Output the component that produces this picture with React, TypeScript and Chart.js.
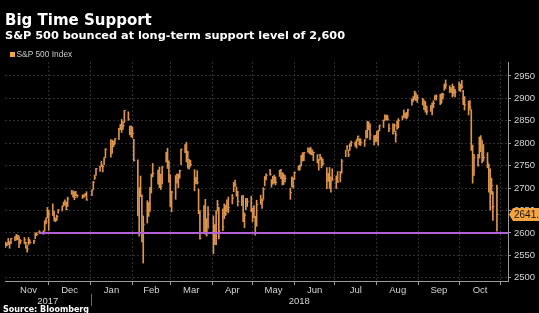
import { useEffect, useRef } from 'react';
import { Chart, registerables } from 'chart.js';

Chart.register(...registerables);

const title = 'Big Time Support';
const subtitle = 'S&P 500 bounced at long-term support level of 2,600';
const seriesName = 'S&P 500 Index';
const sourceText = 'Source: Bloomberg';

const dates = [
  '2017-10-30','2017-10-31',
  '2017-11-01','2017-11-02','2017-11-03','2017-11-06','2017-11-07','2017-11-08','2017-11-09','2017-11-10','2017-11-13','2017-11-14','2017-11-15','2017-11-16','2017-11-17','2017-11-20','2017-11-21','2017-11-22','2017-11-24','2017-11-27','2017-11-28','2017-11-29','2017-11-30',
  '2017-12-01','2017-12-04','2017-12-05','2017-12-06','2017-12-07','2017-12-08','2017-12-11','2017-12-12','2017-12-13','2017-12-14','2017-12-15','2017-12-18','2017-12-19','2017-12-20','2017-12-21','2017-12-22','2017-12-26','2017-12-27','2017-12-28','2017-12-29',
  '2018-01-02','2018-01-03','2018-01-04','2018-01-05','2018-01-08','2018-01-09','2018-01-10','2018-01-11','2018-01-12','2018-01-16','2018-01-17','2018-01-18','2018-01-19','2018-01-22','2018-01-23','2018-01-24','2018-01-25','2018-01-26','2018-01-29','2018-01-30','2018-01-31',
  '2018-02-01','2018-02-02','2018-02-05','2018-02-06','2018-02-07','2018-02-08','2018-02-09','2018-02-12','2018-02-13','2018-02-14','2018-02-15','2018-02-16','2018-02-20','2018-02-21','2018-02-22','2018-02-23','2018-02-26','2018-02-27','2018-02-28',
  '2018-03-01','2018-03-02','2018-03-05','2018-03-06','2018-03-07','2018-03-08','2018-03-09','2018-03-12','2018-03-13','2018-03-14','2018-03-15','2018-03-16','2018-03-19','2018-03-20','2018-03-21','2018-03-22','2018-03-23','2018-03-26','2018-03-27','2018-03-28','2018-03-29',
  '2018-04-02','2018-04-03','2018-04-04','2018-04-05','2018-04-06','2018-04-09','2018-04-10','2018-04-11','2018-04-12','2018-04-13','2018-04-16','2018-04-17','2018-04-18','2018-04-19','2018-04-20','2018-04-23','2018-04-24','2018-04-25','2018-04-26','2018-04-27','2018-04-30',
  '2018-05-01','2018-05-02','2018-05-03','2018-05-04','2018-05-07','2018-05-08','2018-05-09','2018-05-10','2018-05-11','2018-05-14','2018-05-15','2018-05-16','2018-05-17','2018-05-18','2018-05-21','2018-05-22','2018-05-23','2018-05-24','2018-05-25','2018-05-29','2018-05-30','2018-05-31',
  '2018-06-01','2018-06-04','2018-06-05','2018-06-06','2018-06-07','2018-06-08','2018-06-11','2018-06-12','2018-06-13','2018-06-14','2018-06-15','2018-06-18','2018-06-19','2018-06-20','2018-06-21','2018-06-22','2018-06-25','2018-06-26','2018-06-27','2018-06-28','2018-06-29',
  '2018-07-02','2018-07-03','2018-07-05','2018-07-06','2018-07-09','2018-07-10','2018-07-11','2018-07-12','2018-07-13','2018-07-16','2018-07-17','2018-07-18','2018-07-19','2018-07-20','2018-07-23','2018-07-24','2018-07-25','2018-07-26','2018-07-27','2018-07-30','2018-07-31',
  '2018-08-01','2018-08-02','2018-08-03','2018-08-06','2018-08-07','2018-08-08','2018-08-09','2018-08-10','2018-08-13','2018-08-14','2018-08-15','2018-08-16','2018-08-17','2018-08-20','2018-08-21','2018-08-22','2018-08-23','2018-08-24','2018-08-27','2018-08-28','2018-08-29','2018-08-30','2018-08-31',
  '2018-09-04','2018-09-05','2018-09-06','2018-09-07','2018-09-10','2018-09-11','2018-09-12','2018-09-13','2018-09-14','2018-09-17','2018-09-18','2018-09-19','2018-09-20','2018-09-21','2018-09-24','2018-09-25','2018-09-26','2018-09-27','2018-09-28',
  '2018-10-01','2018-10-02','2018-10-03','2018-10-04','2018-10-05','2018-10-08','2018-10-09','2018-10-10','2018-10-11','2018-10-12','2018-10-15','2018-10-16','2018-10-17','2018-10-18','2018-10-19','2018-10-22','2018-10-23','2018-10-24','2018-10-25','2018-10-26','2018-10-29',
];

const highs = [
  2580,2578,
  2588,2581,2588,2592,2597,2595,2592,2585,2590,2579,2572,2590,2584,2584,2600,2601,2605,2605,2627,2634,2657,
  2651,2665,2648,2634,2640,2652,2660,2669,2674,2669,2680,2695,2694,2692,2693,2685,2685,2685,2688,2692,
  2696,2715,2729,2744,2749,2760,2751,2768,2788,2808,2807,2805,2810,2833,2842,2853,2848,2873,2870,2838,2839,
  2836,2809,2763,2701,2727,2685,2638,2672,2668,2702,2731,2755,2740,2747,2731,2748,2780,2789,2761,
  2730,2693,2728,2732,2731,2740,2787,2797,2802,2782,2764,2762,2741,2724,2739,2698,2650,2661,2675,2632,2659,
  2638,2619,2650,2673,2657,2654,2665,2662,2674,2680,2686,2713,2718,2703,2693,2683,2684,2645,2677,2677,2682,
  2655,2661,2637,2673,2684,2676,2701,2726,2732,2742,2719,2726,2729,2725,2740,2742,2734,2731,2728,2700,2725,2722,
  2736,2749,2752,2773,2779,2779,2790,2789,2791,2786,2780,2774,2764,2775,2769,2765,2746,2733,2746,2725,2743,
  2727,2737,2737,2764,2784,2795,2785,2799,2805,2803,2808,2816,2810,2810,2808,2829,2849,2848,2843,2817,2818,
  2826,2829,2840,2852,2863,2863,2862,2843,2843,2843,2827,2850,2855,2861,2874,2867,2869,2876,2899,2904,2916,2912,2907,
  2900,2895,2893,2883,2884,2890,2895,2906,2908,2909,2911,2912,2932,2941,2928,2924,2932,2927,2920,
  2937,2932,2940,2918,2904,2894,2895,2875,2796,2775,2775,2814,2817,2806,2797,2779,2753,2743,2722,2692,2707,
];

const lows = [
  2568,2572,
  2574,2566,2576,2583,2584,2585,2567,2576,2576,2566,2557,2573,2577,2576,2587,2594,2599,2597,2604,2620,2633,
  2606,2639,2627,2625,2628,2644,2649,2660,2662,2652,2659,2686,2680,2674,2683,2679,2677,2679,2683,2673,
  2683,2697,2719,2728,2737,2748,2736,2752,2768,2769,2778,2792,2798,2808,2830,2824,2831,2846,2851,2819,2814,
  2812,2760,2638,2593,2681,2580,2533,2622,2637,2648,2689,2725,2709,2701,2697,2709,2758,2744,2713,
  2659,2647,2675,2711,2701,2722,2752,2779,2758,2744,2742,2749,2694,2710,2709,2643,2586,2601,2597,2593,2610,
  2554,2574,2574,2649,2587,2605,2632,2639,2648,2645,2665,2692,2704,2682,2660,2661,2625,2612,2652,2659,2648,
  2625,2634,2595,2615,2664,2655,2675,2705,2718,2729,2702,2709,2711,2707,2726,2721,2707,2708,2714,2675,2703,2700,
  2719,2740,2740,2749,2760,2761,2780,2777,2775,2774,2761,2756,2740,2764,2745,2751,2699,2715,2699,2691,2718,
  2699,2713,2714,2733,2770,2786,2770,2784,2793,2793,2789,2805,2796,2795,2793,2811,2812,2830,2808,2796,2804,
  2804,2795,2828,2835,2852,2852,2851,2826,2820,2826,2802,2831,2834,2852,2859,2856,2854,2860,2885,2893,2898,2895,2891,
  2885,2875,2869,2864,2871,2863,2879,2897,2896,2886,2890,2899,2918,2922,2913,2913,2903,2909,2903,
  2917,2915,2922,2886,2874,2863,2874,2784,2711,2729,2749,2767,2781,2756,2760,2745,2691,2651,2686,2628,2604,
];

const closes = [
  2572.83,2575.26,
  2579.36,2579.85,2587.84,2591.13,2590.64,2594.38,2584.62,2582.30,2584.84,2578.87,2564.62,2585.64,2578.85,2582.14,2599.03,2597.08,2602.42,2601.42,2627.04,2626.07,2647.58,
  2642.22,2639.44,2629.57,2629.27,2636.98,2651.50,2659.99,2664.11,2662.85,2652.01,2675.81,2690.16,2681.47,2679.25,2684.57,2683.34,2680.50,2682.62,2687.54,2673.61,
  2695.81,2713.06,2723.99,2743.15,2747.71,2751.29,2748.23,2767.56,2786.24,2776.42,2802.56,2798.03,2810.30,2832.97,2839.13,2837.54,2839.25,2872.87,2853.53,2822.43,2823.81,
  2821.98,2762.13,2648.94,2695.14,2681.66,2581.00,2619.55,2656.00,2662.94,2698.63,2731.20,2732.22,2716.26,2701.33,2703.96,2747.30,2779.60,2744.28,2713.83,
  2677.67,2691.25,2720.94,2728.12,2726.80,2738.97,2786.57,2783.02,2765.31,2749.48,2747.33,2752.01,2712.92,2716.94,2711.93,2643.69,2588.26,2658.55,2612.62,2605.00,2640.87,
  2581.88,2614.45,2644.69,2662.84,2604.47,2613.16,2656.87,2642.19,2663.99,2656.30,2677.84,2706.39,2708.64,2693.13,2670.14,2670.29,2634.56,2639.40,2666.94,2669.91,2648.05,
  2654.80,2635.67,2629.73,2663.42,2672.63,2671.92,2697.79,2723.07,2727.72,2730.13,2711.45,2722.46,2720.13,2712.97,2733.01,2724.44,2733.29,2727.76,2721.33,2689.86,2724.01,2705.27,
  2734.62,2746.87,2748.80,2772.35,2770.37,2779.03,2782.00,2786.85,2775.63,2782.49,2779.66,2773.75,2762.59,2767.32,2749.76,2754.88,2717.07,2723.06,2699.63,2716.31,2718.37,
  2726.71,2713.22,2736.61,2759.82,2784.17,2793.84,2774.02,2798.29,2801.31,2798.43,2809.55,2815.62,2804.49,2801.83,2806.98,2820.40,2846.07,2837.44,2818.82,2802.60,2816.29,
  2813.36,2827.22,2840.35,2850.40,2858.45,2857.70,2853.58,2833.28,2821.93,2839.96,2818.37,2840.69,2850.13,2857.05,2862.96,2861.82,2856.98,2874.69,2896.74,2897.52,2914.04,2901.13,2901.52,
  2896.72,2888.60,2878.05,2871.68,2877.13,2887.89,2888.92,2904.18,2904.98,2888.80,2904.31,2907.95,2930.75,2929.67,2919.37,2915.56,2905.97,2914.00,2913.98,
  2924.59,2923.43,2925.51,2901.61,2885.57,2884.43,2880.34,2785.68,2728.37,2767.13,2750.79,2809.92,2809.21,2768.78,2767.78,2755.88,2740.69,2656.10,2705.57,2658.69,2641.25,
];

const monthStarts = [
  '2017-11-01','2017-12-01','2018-01-01','2018-02-01','2018-03-01','2018-04-01',
  '2018-05-01','2018-06-01','2018-07-01','2018-08-01','2018-09-01','2018-10-01','2018-11-01',
];
const monthLabels = ['Nov','Dec','Jan','Feb','Mar','Apr','May','Jun','Jul','Aug','Sep','Oct'];
const yearLabels = ['2017', '2018'];
const yearBreak = '2018-01-01';
const yTicks = [2500, 2550, 2600, 2650, 2700, 2750, 2800, 2850, 2900, 2950];
const supportLevel = 2600;
const supportFrom = '2017-11-24';

const ORANGE = '#dc944a';
const PURPLE = '#b25fd8';
const GRID = '#2e2e2e';
const AXIS = '#9a9a9a';
const LABEL = '#d4d4d4';

const baseDay = Date.UTC(2017, 9, 30);
const dayNum = (s: string) => {
  const [y, m, d] = s.split('-').map(Number);
  return (Date.UTC(y, m - 1, d) - baseDay) / 86400000;
};

const X_MIN = -0.4;
const X_MAX = 372.2;

export default function App() {
  const ref = useRef<HTMLCanvasElement | null>(null);

  useEffect(() => {
    document.body.style.margin = '0';
    document.body.style.background = '#000';
    const canvas = ref.current;
    if (!canvas) return;

    const boundaries = monthStarts.slice(1).map(dayNum);
    const boundarySet = new Set(boundaries);
    const labelMap = new Map<number, any>();
    for (let i = 0; i < monthLabels.length; i++) {
      const mid = (dayNum(monthStarts[i]) + dayNum(monthStarts[i + 1])) / 2;
      labelMap.set(mid, monthLabels[i]);
    }
    const yb = dayNum(yearBreak);
    labelMap.set((X_MIN + yb) / 2, ['', yearLabels[0]]);
    labelMap.set((yb + X_MAX) / 2, ['', yearLabels[1]]);
    const xTickValues = [...boundaries, ...Array.from(labelMap.keys())].sort((a, b) => a - b);

    const overlay = {
      id: 'overlay',
      afterDraw(chart: any) {
        const { ctx } = chart;
        const xs = chart.scales.x;
        const ys = chart.scales.y;
        ctx.save();
        const xb = Math.round(xs.getPixelForValue(yb)) + 0.5;
        ctx.strokeStyle = '#6a6a6a';
        ctx.lineWidth = 1;
        ctx.beginPath();
        ctx.moveTo(xb, xs.top + 13);
        ctx.lineTo(xb, xs.top + 25);
        ctx.stroke();

        const last = closes[closes.length - 1];
        const yc = ys.getPixelForValue(last);
        const x0 = chart.chartArea.right;
        ctx.fillStyle = '#f5a53f';
        ctx.beginPath();
        ctx.moveTo(x0 + 1, yc);
        ctx.lineTo(x0 + 5, yc - 6.5);
        ctx.lineTo(chart.width, yc - 6.5);
        ctx.lineTo(chart.width, yc + 6.5);
        ctx.lineTo(x0 + 5, yc + 6.5);
        ctx.closePath();
        ctx.fill();
        ctx.fillStyle = '#1a1208';
        ctx.font = '10px "Liberation Sans"';
        ctx.textBaseline = 'middle';
        ctx.textAlign = 'left';
        ctx.fillText(last.toFixed(2), x0 + 6, yc + 0.5);
        ctx.restore();
      },
    };

    const xs = dates.map(dayNum);
    const chart = new Chart(canvas, {
      type: 'bar',
      data: {
        datasets: [
          {
            type: 'line',
            label: 'Support',
            data: [
              { x: dayNum(supportFrom), y: supportLevel },
              { x: X_MAX, y: supportLevel },
            ],
            borderColor: PURPLE,
            borderWidth: 2,
            pointRadius: 0,
            order: 0,
          } as any,
          {
            type: 'line',
            label: seriesName + ' close',
            data: xs.map((x, i) => ({ x, y: closes[i] })),
            showLine: false,
            pointStyle: 'dash',
            pointRadius: 1.6,
            pointBorderWidth: 1,
            pointBorderColor: ORANGE,
            pointBackgroundColor: ORANGE,
            order: 1,
          } as any,
          {
            type: 'bar',
            label: seriesName,
            data: xs.map((x, i) => ({ x, y: [lows[i], highs[i]] })),
            backgroundColor: ORANGE,
            borderWidth: 0,
            barThickness: 1,
            grouped: false,
            order: 2,
          } as any,
        ],
      },
      options: {
        animation: false,
        responsive: false,
        devicePixelRatio: 1,
        events: [],
        layout: { padding: { top: 62, left: 5, right: 0, bottom: 0 } },
        plugins: {
          legend: { display: false },
          tooltip: { enabled: false },
          title: { display: false },
        },
        scales: {
          x: {
            type: 'linear',
            min: X_MIN,
            max: X_MAX,
            offset: false,
            afterBuildTicks: (scale: any) => {
              scale.ticks = xTickValues.map((v) => ({ value: v }));
            },
            afterFit: (scale: any) => {
              scale.height = 32;
            },
            grid: {
              offset: false,
              color: (c: any) => (c.tick && boundarySet.has(c.tick.value) ? GRID : 'rgba(0,0,0,0)'),
              tickColor: (c: any) => (c.tick && boundarySet.has(c.tick.value) ? AXIS : 'rgba(0,0,0,0)'),
              tickLength: 4,
              lineWidth: 1,
            },
            border: { display: true, color: AXIS, width: 1, dash: [2, 2] },
            ticks: {
              autoSkip: false,
              maxRotation: 0,
              minRotation: 0,
              padding: 0,
              color: LABEL,
              font: { family: 'Liberation Sans', size: 9.5, lineHeight: 1.15 },
              callback: (v: any) => (labelMap.has(v) ? labelMap.get(v) : ''),
            },
          },
          y: {
            type: 'linear',
            position: 'right',
            min: 2493,
            max: 2981,
            afterBuildTicks: (scale: any) => {
              scale.ticks = yTicks.map((v) => ({ value: v }));
            },
            afterFit: (scale: any) => {
              scale.width = 31;
            },
            grid: { color: GRID, tickColor: AXIS, tickLength: 3, lineWidth: 1 },
            border: { display: true, color: AXIS, width: 1, dash: [2, 2] },
            ticks: {
              padding: 3,
              color: LABEL,
              font: { family: 'Liberation Sans', size: 9.5 },
              callback: (v: any) => String(v),
            },
          },
        },
      } as any,
      plugins: [overlay],
    });
    return () => chart.destroy();
  }, []);

  return (
    <div style={{ position: 'relative', width: 539, height: 313, background: '#000', overflow: 'hidden' }}>
      <canvas ref={ref} width={539} height={313} style={{ position: 'absolute', left: 0, top: 0 }} />
      <div style={{ position: 'absolute', left: 5, top: 13, font: 'bold 15px/15px "DejaVu Sans"', color: '#fff', whiteSpace: 'nowrap' }}>
        {title}
      </div>
      <div style={{ position: 'absolute', left: 5, top: 30, font: 'bold 11.3px/11.3px "DejaVu Sans"', color: '#fff', whiteSpace: 'nowrap' }}>
        {subtitle}
      </div>
      <div style={{ position: 'absolute', left: 10, top: 50, display: 'flex', alignItems: 'center', font: '8.4px/8.4px "Liberation Sans"', color: '#c8c8c8', whiteSpace: 'nowrap' }}>
        <span style={{ display: 'inline-block', width: 5, height: 5, background: '#f5a53f', marginRight: 1.5 }} />
        <span>{seriesName}</span>
      </div>
      <div style={{ position: 'absolute', left: 3, top: 306, font: 'bold 8px/8px "DejaVu Sans"', color: '#fff', whiteSpace: 'nowrap' }}>
        {sourceText}
      </div>
    </div>
  );
}
